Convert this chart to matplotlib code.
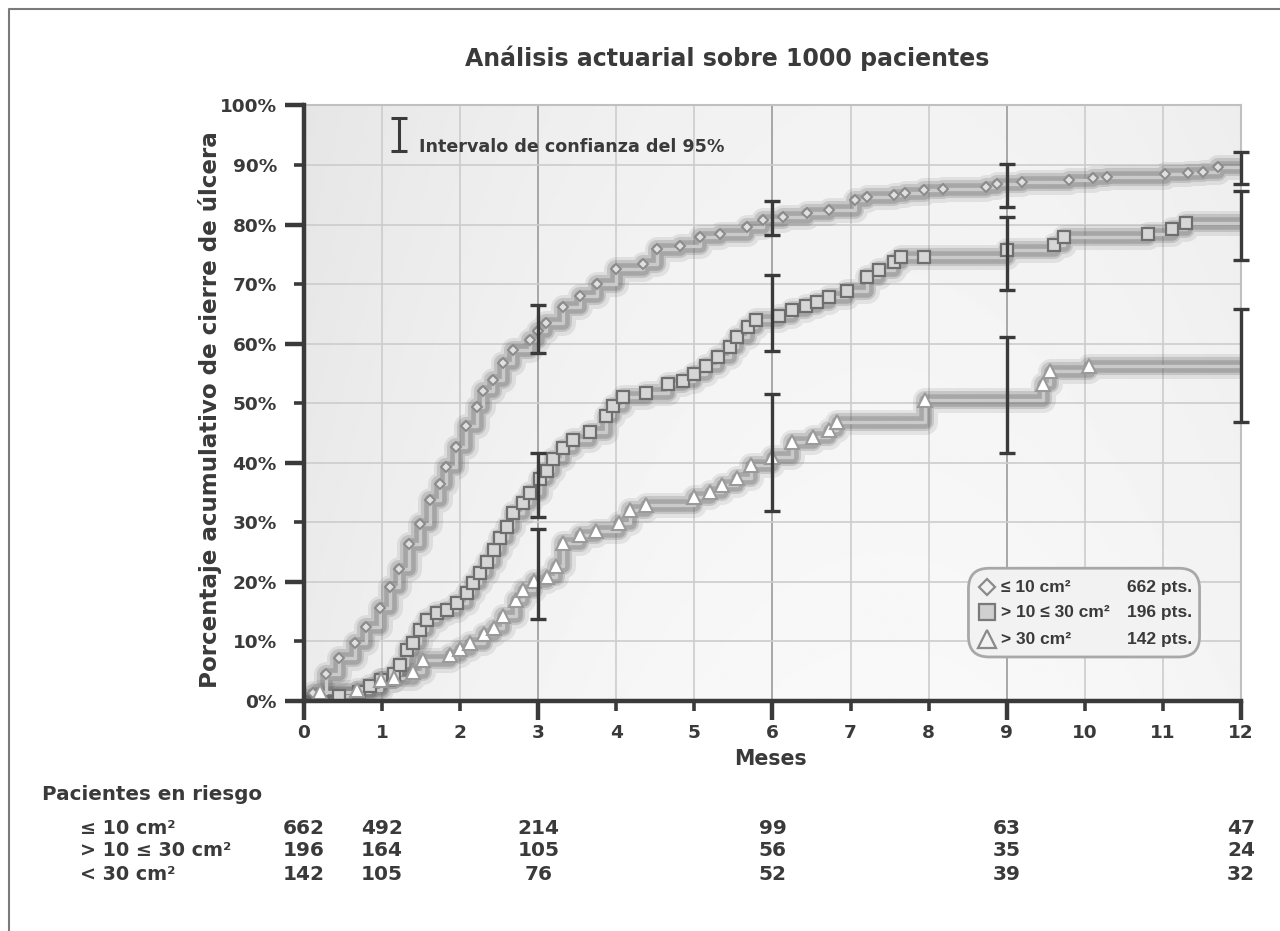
import numpy as np
import matplotlib
matplotlib.use("Agg")
import matplotlib.pyplot as plt
from matplotlib.patches import FancyBboxPatch
from matplotlib.lines import Line2D
import matplotlib.transforms as mtransforms

plt.rcParams['font.family'] = ['DejaVu Sans']
plt.rcParams['font.weight'] = 'bold'

# curve: <= 10 cm2 (diamonds)
months_a = [0, 0.11, 0.28, 0.45, 0.65, 0.8, 0.97, 1.1, 1.22, 1.35, 1.48, 1.61, 1.74, 1.82,
            1.95, 2.08, 2.21, 2.29, 2.42, 2.55, 2.68, 2.89, 3.0, 3.1, 3.32, 3.53, 3.75,
            4.0, 4.34, 4.52, 4.82, 5.07, 5.33, 5.67, 5.88, 6.14, 6.44, 6.72, 7.06, 7.21,
            7.55, 7.7, 7.94, 8.19, 8.73, 8.87, 9.19, 9.8, 10.1, 10.29, 11.03, 11.32,
            11.52, 11.71, 12]
pct_a = [0, 1.4, 4.5, 7.3, 9.8, 12.4, 15.7, 19.1, 22.2, 26.4, 29.8, 33.7, 36.5, 39.3,
         42.7, 46.1, 49.4, 52.0, 53.9, 56.7, 59.0, 60.7, 62.1, 63.5, 66.2, 68.0, 70.1,
         72.6, 73.4, 75.9, 76.4, 78.0, 78.5, 79.6, 80.7, 81.2, 82.0, 82.4, 84.2, 84.7,
         85.0, 85.3, 85.8, 85.9, 86.3, 86.9, 87.2, 87.5, 87.8, 88.0, 88.5, 88.6,
         88.9, 89.6, 89.6]

# curve: > 10 <= 30 cm2 (squares)
months_b = [0, 0.45, 0.7, 0.85, 0.98, 1.15, 1.23, 1.32, 1.4, 1.49, 1.57, 1.7, 1.83, 1.96,
            2.09, 2.17, 2.26, 2.34, 2.43, 2.51, 2.6, 2.68, 2.81, 2.89, 3.02, 3.11, 3.19,
            3.32, 3.45, 3.66, 3.87, 3.96, 4.09, 4.38, 4.66, 4.86, 5.0, 5.15, 5.3, 5.45,
            5.54, 5.69, 5.79, 6.08, 6.25, 6.43, 6.57, 6.72, 6.96, 7.21, 7.36, 7.55, 7.65,
            7.94, 9.0, 9.61, 9.73, 10.81, 11.12, 11.3, 12]
pct_b = [0, 0.8, 1.5, 2.6, 3.5, 4.6, 6.0, 8.5, 9.7, 11.9, 13.6, 14.7, 15.3, 16.4,
         18.1, 19.8, 21.5, 23.4, 25.4, 27.4, 29.3, 31.6, 33.3, 34.9, 37.2, 38.6, 40.6,
         42.5, 43.9, 45.1, 47.9, 49.6, 51.0, 51.8, 53.2, 53.8, 54.9, 56.3, 57.7, 59.4,
         61.1, 62.8, 63.9, 64.7, 65.6, 66.4, 67.0, 67.8, 68.9, 71.2, 72.3, 73.7, 74.5,
         74.6, 75.7, 76.5, 77.9, 78.5, 79.3, 80.2, 80.2]

# curve: > 30 cm2 (triangles)
months_c = [0, 0.21, 0.68, 0.98, 1.15, 1.4, 1.53, 1.87, 2.0, 2.13, 2.3, 2.43, 2.55, 2.72,
            2.81, 2.94, 3.11, 3.23, 3.32, 3.53, 3.74, 4.04, 4.17, 4.38, 5.0, 5.2, 5.35,
            5.54, 5.72, 5.99, 6.25, 6.52, 6.72, 6.82, 7.95, 9.46, 9.56, 10.05, 12]
pct_c = [0, 1.5, 1.8, 3.5, 3.8, 4.9, 6.9, 7.7, 8.8, 9.7, 11.3, 12.2, 14.2, 17.0,
         18.7, 20.1, 20.9, 22.6, 26.5, 27.9, 28.5, 29.9, 32.1, 32.9, 34.3, 35.1, 36.2,
         37.4, 39.6, 41.0, 43.5, 44.4, 45.5, 46.9, 50.5, 53.2, 55.4, 56.3, 56.3]

# 95% confidence intervals
ci_months = [3, 6, 9, 12]
ci_low_a = [58.4, 78.3, 82.9, 86.9]
ci_high_a = [66.5, 83.9, 90.1, 92.2]
ci_low_b = [30.9, 58.7, 69.0, 74.0]
ci_high_b = [41.7, 71.6, 81.3, 85.7]
ci_low_c = [13.8, 31.9, 41.7, 46.9]
ci_high_c = [28.9, 51.5, 61.2, 65.8]

# patients at risk
risk_months = [0, 1, 3, 6, 9, 12]
risk_labels = ["\u2264 10 cm\u00b2", "> 10 \u2264 30 cm\u00b2", "< 30 cm\u00b2"]
risk_a = [662, 492, 214, 99, 63, 47]
risk_b = [196, 164, 105, 56, 35, 24]
risk_c = [142, 105, 76, 52, 39, 32]

legend_names = ["\u2264 10 cm\u00b2", "> 10 \u2264 30 cm\u00b2", "> 30 cm\u00b2"]
legend_counts = ["662 pts.", "196 pts.", "142 pts."]

dark = '#3a3a3a'

fig = plt.figure(figsize=(12.8, 9.31), dpi=100)
ax = fig.add_axes([0.2375, 0.247, 0.732, 0.6397])
ax.set_xlim(0, 12)
ax.set_ylim(0, 100)

# background gradient
gx = np.linspace(0, 1, 300)
gy = np.linspace(0, 1, 200)
GX, GY = np.meshgrid(gx, gy)
shade = 0.975 - 0.05 * ((GX - 0.62) / 0.62) ** 2 - 0.025 * GY
ax.imshow(shade, extent=[0, 12, 0, 100], origin='lower', aspect='auto',
          cmap='gray', vmin=0, vmax=1, zorder=0)

# grid
for m in range(1, 12):
    ax.axvline(m, color='#9a9a9a' if m % 3 == 0 else '#cccccc', lw=1.2, zorder=1)
for p in range(10, 100, 10):
    ax.axhline(p, color='#cccccc', lw=1.2, zorder=1)


def draw_curve(xs, ys, marker, ms, face, edge, mew):
    for lw, a in [(18, 0.12), (13, 0.2), (9, 0.28)]:
        ax.plot(xs, ys, drawstyle='steps-post', color='#5a5a5a', lw=lw, alpha=a,
                solid_capstyle='round', solid_joinstyle='round', zorder=2)
    ax.plot(xs, ys, drawstyle='steps-post', color='#cacaca', lw=2.4, zorder=3)
    ax.plot(xs[1:-1], ys[1:-1], ls='none', marker=marker, ms=ms, mfc=face, mec=edge,
            mew=mew, zorder=4)


draw_curve(months_a, pct_a, 'D', 5.5, '#e0e0e0', '#8a8a8a', 1.4)
draw_curve(months_b, pct_b, 's', 9, '#d6d6d6', '#6e6e6e', 1.6)
draw_curve(months_c, pct_c, '^', 10, '#ffffff', '#9a9a9a', 1.5)

for low, high in [(ci_low_a, ci_high_a), (ci_low_b, ci_high_b), (ci_low_c, ci_high_c)]:
    mid = [(l + h) / 2 for l, h in zip(low, high)]
    err = [(h - l) / 2 for l, h in zip(low, high)]
    ax.errorbar(ci_months, mid, yerr=err, fmt='none', ecolor=dark, elinewidth=2.4,
                capsize=5.5, capthick=2.4, zorder=6, clip_on=False)

# confidence interval key
ax.errorbar([1.22], [95.1], yerr=[2.8], fmt='none', ecolor=dark, elinewidth=2.2,
            capsize=5.5, capthick=2.2, zorder=6)
ax.text(1.47, 93.0, "Intervalo de confianza del 95%", fontsize=12.6, color=dark,
        va='center', ha='left', zorder=7)

# spines and ticks
for s in ['left', 'bottom']:
    ax.spines[s].set_color(dark)
    ax.spines[s].set_linewidth(3.2)
    ax.spines[s].set_zorder(8)
for s in ['top', 'right']:
    ax.spines[s].set_color('#c0c0c0')
    ax.spines[s].set_linewidth(1.5)

ax.set_xticks(range(0, 13))
ax.set_xticklabels([str(m) for m in range(0, 13)])
ax.set_xticks([0, 3, 6, 9, 12], minor=True)
ax.set_yticks(range(0, 101, 10))
ax.set_yticklabels([f"{p}%" for p in range(0, 101, 10)])
ax.set_yticks(range(0, 101, 20), minor=True)
ax.xaxis.remove_overlapping_locs = False
ax.yaxis.remove_overlapping_locs = False
ax.tick_params(axis='both', which='major', length=7.5, width=2.6, color=dark,
               labelsize=13.3, labelcolor=dark)
ax.tick_params(axis='x', which='major', pad=9)
ax.tick_params(axis='y', which='major', pad=12)
ax.tick_params(axis='both', which='minor', length=14, width=3.2, color=dark)
for t in ax.get_xticklabels() + ax.get_yticklabels():
    t.set_fontweight('bold')

ax.set_xlabel("Meses", fontsize=14.8, color=dark, fontweight='bold')
ax.xaxis.set_label_coords(0.498, -0.080)
ax.set_ylabel("Porcentaje acumulativo de cierre de \u00falcera", fontsize=16.6,
              color=dark, fontweight='bold')
ax.yaxis.set_label_coords(-0.088, 0.49)

fig.text(0.568, 0.937, "An\u00e1lisis actuarial sobre 1000 pacientes", fontsize=17,
         color=dark, fontweight='bold', ha='center', va='center')

# legend box
axw, axh = 0.732 * 1280, 0.6397 * 931
box = FancyBboxPatch((8.51 / 12, 0.074), (11.47 - 8.51) / 12, 0.149,
                     boxstyle='round,pad=0,rounding_size=0.022',
                     mutation_aspect=axw / axh, transform=ax.transAxes,
                     facecolor='#f2f2f2', edgecolor='#a8a8a8', lw=2, zorder=9)
ax.add_patch(box)
leg_y = [0.191, 0.149, 0.104]
leg_styles = [('D', 8, '#f2f2f2', '#8a8a8a'), ('s', 11, '#d0d0d0', '#7a7a7a'),
              ('^', 13, '#f2f2f2', '#8a8a8a')]
leg_font = ['Liberation Sans', 'DejaVu Sans']
for yy, name, cnt, (mk, ms, fc, ec) in zip(leg_y, legend_names, legend_counts, leg_styles):
    ax.add_line(Line2D([8.75 / 12], [yy], transform=ax.transAxes, ls='none', marker=mk,
                       ms=ms, mfc=fc, mec=ec, mew=1.6, zorder=10))
    ax.text(8.93 / 12, yy, name, transform=ax.transAxes, fontsize=12.5, color=dark,
            va='center', ha='left', zorder=10, family=leg_font)
    ax.text(11.37 / 12, yy, cnt, transform=ax.transAxes, fontsize=12.5, color=dark,
            va='center', ha='right', zorder=10, family=leg_font)

# patients at risk table
fig.text(42 / 1280, 1 - 795 / 931, "Pacientes en riesgo", fontsize=14.3, color=dark,
         ha='left', va='center', fontweight='bold')
trans = mtransforms.blended_transform_factory(ax.transData, fig.transFigure)
row_y = [1 - 828 / 931, 1 - 851 / 931, 1 - 874 / 931]
for yy, lab, vals in zip(row_y, risk_labels, [risk_a, risk_b, risk_c]):
    fig.text(80 / 1280, yy, lab, fontsize=13.8, color=dark, ha='left', va='center',
             fontweight='bold')
    for m, v in zip(risk_months, vals):
        ax.text(m, yy, str(v), transform=trans, fontsize=14.5, color=dark,
                ha='center', va='center', fontweight='bold', clip_on=False)

# figure border (top and left)
fig.add_artist(Line2D([9 / 1280, 9 / 1280, 1.0], [0.0, 1 - 9 / 931, 1 - 9 / 931],
                      transform=fig.transFigure, color='#7a7a7a', lw=1.5))

fig.savefig("out.png", dpi=100)
